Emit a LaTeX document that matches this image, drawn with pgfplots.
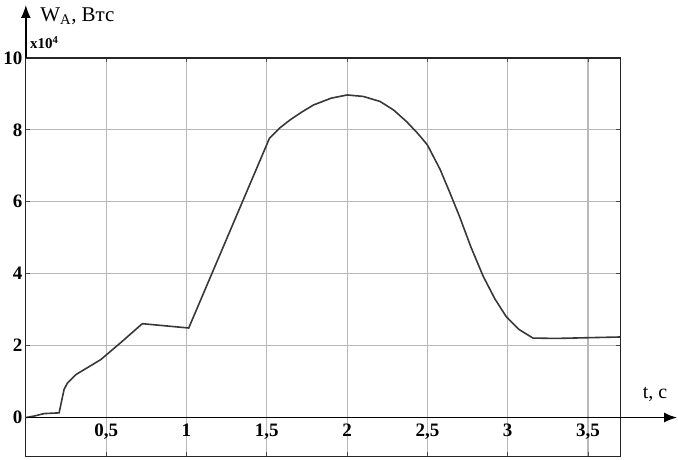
\documentclass[border=0pt]{standalone}
\usepackage{pgfplots}
\pgfplotsset{compat=1.18}
\usetikzlibrary{arrows.meta}
\usepackage{fontspec}
\setmainfont{Liberation Serif}
\begin{document}
\begin{tikzpicture}
\begin{axis}[
  scale only axis,
  width=595pt, height=399pt,
  xmin=0, xmax=3.7,
  ymin=-1.083, ymax=10,
  xtick={0.5,1,...,3.5},
  xticklabels={{0,5},1,{1,5},2,{2,5},3,{3,5}},
  ytick={0,2,...,10},
  grid=major,
  grid style={color=black!28, line width=1.2pt},
  axis line style={line width=1.2pt, black!85},
  major tick style={black!70, line width=1pt},
  major tick length=4pt,
  xticklabel style={font=\fontsize{19}{19}\selectfont\bfseries, yshift=36pt},
  yticklabel style={font=\fontsize{19}{19}\selectfont\bfseries},
  /pgf/number format/assume math mode=true,
  clip=false,
]
\addplot[color=black!78, line width=1.6pt] coordinates {
  (0,0) (0.05,0.04) (0.114,0.11) (0.207,0.13) (0.238,0.78) (0.259,0.96)
  (0.31,1.19) (0.466,1.61) (0.59,2.08) (0.725,2.61) (1.014,2.49)
  (1.517,7.77) (1.58,8.05) (1.646,8.28) (1.72,8.5) (1.79,8.69) (1.9,8.88)
  (2.0,8.97) (2.1,8.93) (2.205,8.79) (2.29,8.55) (2.37,8.23) (2.44,7.9)
  (2.5,7.58) (2.58,6.89) (2.64,6.25) (2.70,5.59) (2.77,4.75) (2.847,3.93)
  (2.92,3.3) (2.99,2.81) (3.07,2.45) (3.157,2.21) (3.3,2.2) (3.7,2.24)
};
\draw[line width=1.8pt, -{Latex[length=13pt,width=10pt]}] (axis cs:0,0) -- ([xshift=57pt]axis cs:3.7,0);
\draw[line width=1.5pt, -{Latex[length=13pt,width=10pt]}] (axis cs:0,10) -- ([yshift=53pt]axis cs:0,10);
\path ([yshift=-3pt]rel axis cs:0,0) -- ([yshift=58pt]rel axis cs:0,1);
\node[anchor=west, font=\fontsize{21}{21}\selectfont] at ([xshift=11pt,yshift=42pt]rel axis cs:0,1) {W\textsubscript{A}, Втс};
\node[anchor=south west, font=\fontsize{15}{15}\selectfont\bfseries, inner sep=0pt] at ([xshift=4pt,yshift=9pt]rel axis cs:0,1) {x10\textsuperscript{4}};
\node[anchor=south, font=\fontsize{20}{20}\selectfont] at ([xshift=35pt,yshift=12pt]axis cs:3.7,0) {t, c};
\end{axis}
\end{tikzpicture}
\end{document}
